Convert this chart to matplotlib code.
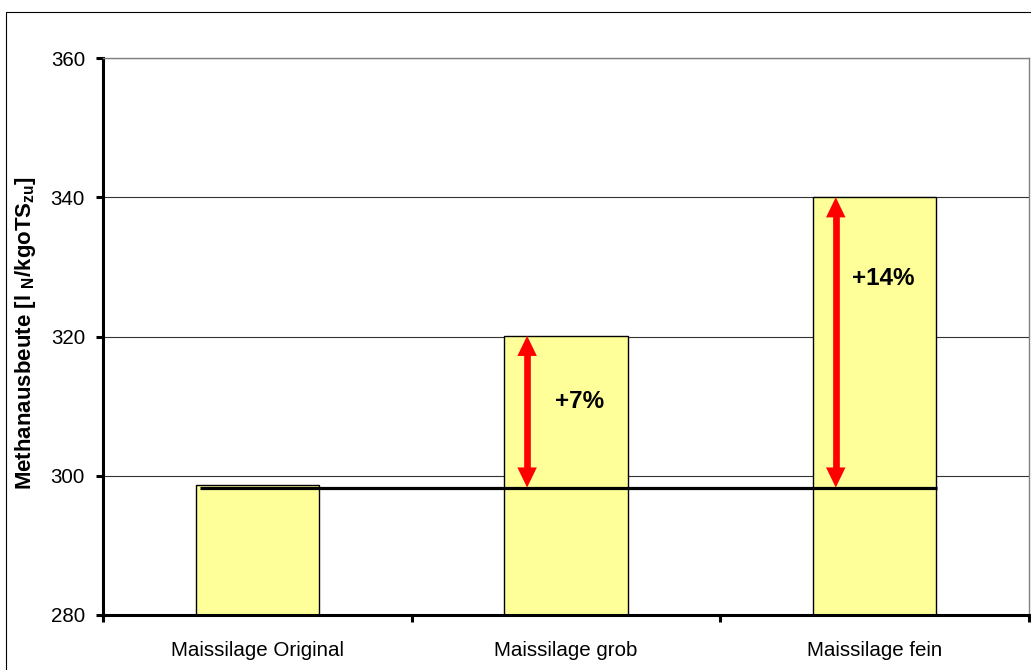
import matplotlib
matplotlib.use("Agg")
import matplotlib.pyplot as plt
import matplotlib.patches as mpatches
import numpy as np

plt.rcParams['font.family'] = ['Liberation Sans', 'DejaVu Sans']
plt.rcParams['mathtext.default'] = 'regular'

# ---- data ----
categories = ["Maissilage Original", "Maissilage grob", "Maissilage fein"]
values = [298.7, 320.1, 340.0]
baseline = 298.3
increase_labels = ["", "+7%", "+14%"]
y_ticks = [280, 300, 320, 340, 360]

W, H = 1031, 670
fig = plt.figure(figsize=(W / 100, H / 100), dpi=100)
ax = fig.add_axes([103 / W, (H - 615) / H, (1029 - 103) / W, (615 - 58) / H])

x = np.arange(len(categories)) + 0.5
ax.bar(x, np.array(values) - 280, bottom=280, width=0.40, color='#FFFF99',
       edgecolor='black', linewidth=1.0, zorder=2)

ax.set_xlim(0, 3)
ax.set_ylim(280, 360)
ax.set_yticks(y_ticks)
ax.grid(axis='y', color='#333333', linewidth=0.8, zorder=0)
ax.set_axisbelow(True)

# x ticks: major at boundaries (marks), minor at centers (labels)
ax.set_xticks([0, 1, 2, 3])
ax.set_xticklabels([])
ax.set_xticks(x, minor=True)
ax.set_xticklabels(categories, minor=True, fontsize=14.8)
ax.tick_params(axis='x', which='minor', length=0, pad=19)
ax.tick_params(axis='x', which='major', length=5, width=2.2, direction='out')
ax.tick_params(axis='y', length=5, width=2.2, direction='out', pad=8, labelsize=14.8)

for s in ['left', 'bottom']:
    ax.spines[s].set_linewidth(2.2)
    ax.spines[s].set_color('black')
for s in ['top', 'right']:
    ax.spines[s].set_linewidth(1.0)
    ax.spines[s].set_color('#808080')

# baseline line
ax.hlines(baseline, xmin=x[0] - 0.187, xmax=x[2] + 0.202, colors='black',
          linewidth=2.3, zorder=4)

# double-headed arrows: one shaft plus two heads
arrow_dx = -0.126
style = 'simple,head_length=1.45,head_width=1.4,tail_width=0.3'
for i in (1, 2):
    ax_x = x[i] + arrow_dx
    ax.vlines(ax_x, baseline + 2.0, values[i] - 2.0, colors='#FF0000',
              linewidth=4.8, capstyle='butt', zorder=5)
    for end, start in ((values[i], values[i] - 4.0), (baseline, baseline + 4.0)):
        ax.annotate("", xy=(ax_x, end), xytext=(ax_x, start),
                    arrowprops=dict(arrowstyle=style, mutation_scale=10,
                                    fc='#FF0000', ec='none', lw=0,
                                    shrinkA=0, shrinkB=0), zorder=5)
text_pos = {1: (1.545, 310.6), 2: (2.527, 328.3)}
for i, (tx, ty) in text_pos.items():
    ax.text(tx, ty, increase_labels[i], fontsize=17.5, fontweight='bold',
            ha='center', va='center', zorder=6)

fig.text(26 / W, 337 / H, r"Methanausbeute [l $_{N}$/kgoTS$_{zu}$]", rotation=90,
         fontsize=16, fontweight='bold', ha='center', va='center')

# figure border
fig.patches.append(mpatches.Rectangle((6 / W, -0.1), 1.2, 1 - 12 / H + 0.1,
                                      transform=fig.transFigure, fill=False,
                                      edgecolor='black', linewidth=0.8))

fig.savefig("out.png", dpi=100)
